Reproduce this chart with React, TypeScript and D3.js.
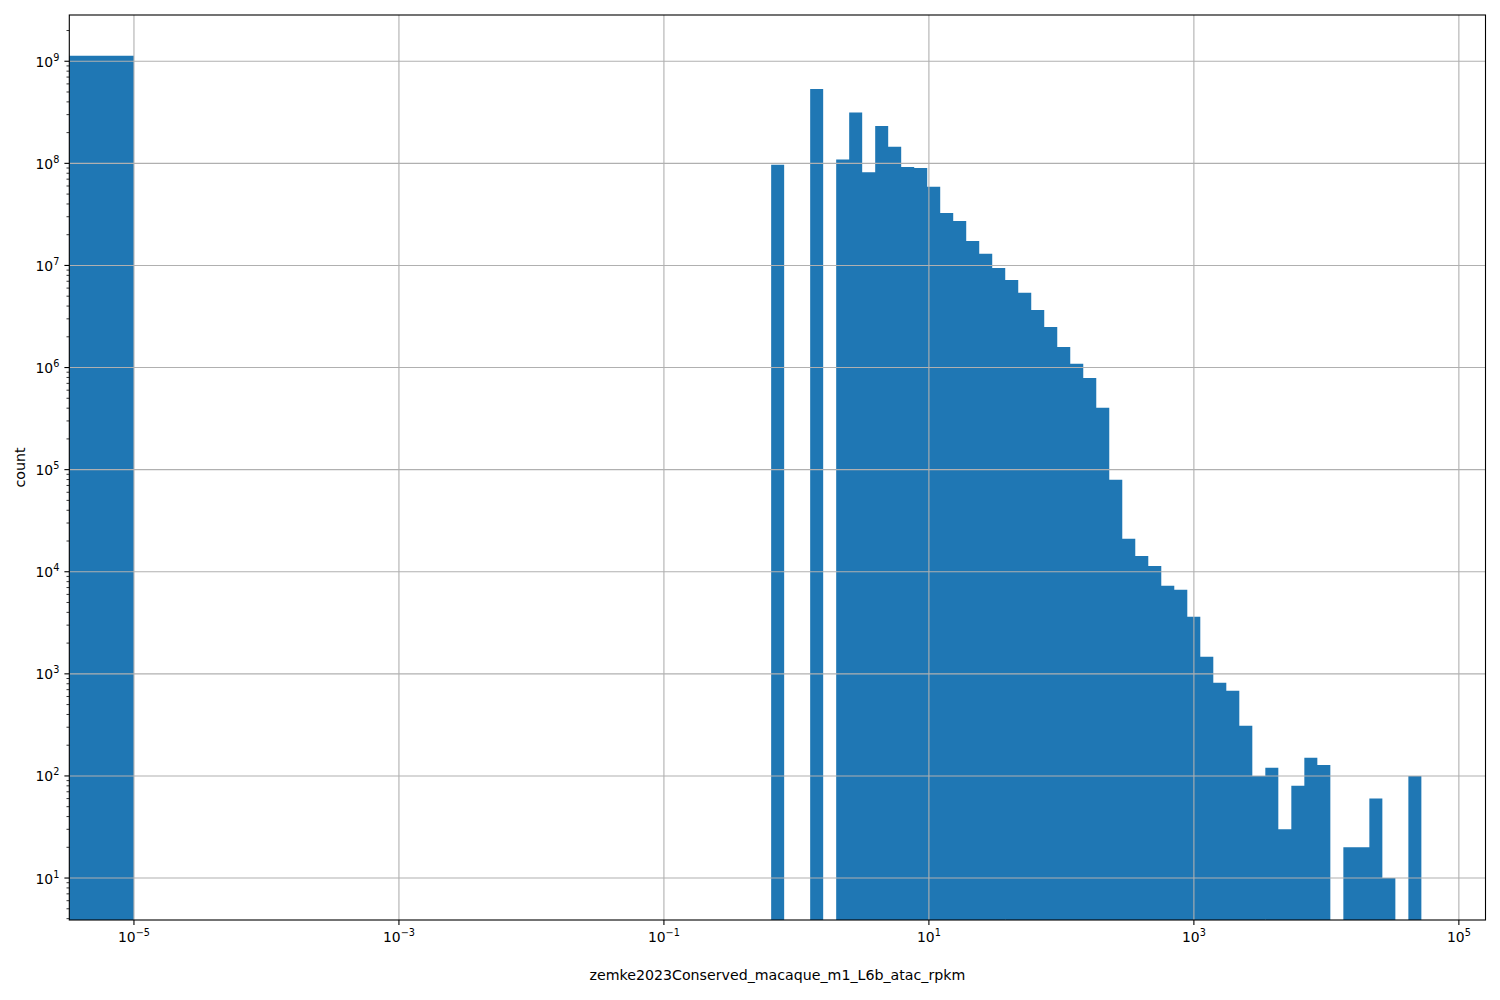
import * as d3 from 'd3';

// first bin holds all the zero values, drawn from off-axis up to 1e-5
const ZERO_BIN_HI = 1e-5;
const ZERO_BIN_COUNT = 1.135e9;

// log-spaced bins (log10 of the edges)
const BIN_LOG_START = -0.1906;
const BIN_LOG_END = 4.717;
const BIN_COUNTS = [
  9.7e7, 0, 0, 5.36e8, 0, 1.09e8, 3.14e8, 8.2e7, 2.32e8, 1.45e8,
  9.2e7, 9.0e7, 5.9e7, 3.27e7, 2.73e7, 1.74e7, 1.3e7, 9.46e6, 7.22e6, 5.39e6,
  3.67e6, 2.5e6, 1.59e6, 1.09e6, 7.9e5, 4.03e5, 7.94e4, 2.1e4, 1.43e4, 1.14e4,
  7280, 6650, 3620, 1470, 817, 682, 310, 100, 120, 30,
  80, 151, 128, 0, 20, 20, 60, 10, 0, 100,
];

const X_TICK_EXPS = [-5, -3, -1, 1, 3, 5];
const Y_TICK_EXPS = [1, 2, 3, 4, 5, 6, 7, 8, 9];

const X_LABEL = 'zemke2023Conserved_macaque_m1_L6b_atac_rpkm';
const Y_LABEL = 'count';

const W = 1500;
const H = 1000;
const margin = { top: 15, right: 14.5, bottom: 80, left: 69.3 };
const FONT = 'DejaVu Sans, sans-serif';
const BLUE = '#1f77b4';
const GRID = '#b0b0b0';

function Pow10({ exp }: { exp: number }) {
  const s = exp < 0 ? `\u2212${-exp}` : `${exp}`;
  return (
    <>
      <tspan>10</tspan>
      <tspan fontSize={9.7} dy={-6}>{s}</tspan>
    </>
  );
}

export default function App() {
  const x0 = margin.left;
  const x1 = W - margin.right;
  const y0 = margin.top;
  const y1 = H - margin.bottom;

  const x = d3.scaleLog().domain([Math.pow(10, -5.488), Math.pow(10, 5.201)]).range([x0, x1]);
  const y = d3.scaleLog().domain([Math.pow(10, 0.589), Math.pow(10, 9.453)]).range([y1, y0]);

  const step = (BIN_LOG_END - BIN_LOG_START) / BIN_COUNTS.length;
  const bins = BIN_COUNTS.map((c, i) => ({
    lo: Math.pow(10, BIN_LOG_START + i * step),
    hi: Math.pow(10, BIN_LOG_START + (i + 1) * step),
    count: c,
  })).filter((b) => b.count > 0);

  // all bars in one path so adjacent bins don't show seams
  const p = d3.path();
  p.rect(x0 - 10, y(ZERO_BIN_COUNT), x(ZERO_BIN_HI) - x0 + 10, y1 - y(ZERO_BIN_COUNT) + 10);
  bins.forEach((b) => {
    p.rect(x(b.lo), y(b.count), x(b.hi) - x(b.lo), y1 - y(b.count) + 10);
  });

  const minorY: number[] = [];
  for (let e = 0; e <= 9; e++) {
    for (let m = 2; m <= 9; m++) {
      const v = m * Math.pow(10, e);
      const py = y(v);
      if (py >= y0 && py <= y1) minorY.push(v);
    }
  }

  return (
    <div style={{ position: 'absolute', left: 0, top: 0 }}>
      <svg width={W} height={H} style={{ display: 'block', background: '#fff' }} fontFamily={FONT}>
        <defs>
          <clipPath id="plot">
            <rect x={x0} y={y0} width={x1 - x0} height={y1 - y0} />
          </clipPath>
        </defs>
        <g clipPath="url(#plot)">
          <path d={p.toString()} fill={BLUE} />
          {X_TICK_EXPS.map((e) => (
            <line key={e} x1={x(Math.pow(10, e))} x2={x(Math.pow(10, e))} y1={y0} y2={y1} stroke={GRID} strokeWidth={1.1} />
          ))}
          {Y_TICK_EXPS.map((e) => (
            <line key={e} x1={x0} x2={x1} y1={y(Math.pow(10, e))} y2={y(Math.pow(10, e))} stroke={GRID} strokeWidth={1.1} />
          ))}
        </g>
        <rect x={x0} y={y0} width={x1 - x0} height={y1 - y0} fill="none" stroke="#000" strokeWidth={1.1} />
        {X_TICK_EXPS.map((e) => {
          const px = x(Math.pow(10, e));
          return (
            <g key={e}>
              <line x1={px} x2={px} y1={y1} y2={y1 + 4.9} stroke="#000" strokeWidth={1.1} />
              <text x={px} y={y1 + 22} textAnchor="middle" fontSize={13.9} fill="#000">
                <Pow10 exp={e} />
              </text>
            </g>
          );
        })}
        {Y_TICK_EXPS.map((e) => {
          const py = y(Math.pow(10, e));
          return (
            <g key={e}>
              <line x1={x0 - 4.9} x2={x0} y1={py} y2={py} stroke="#000" strokeWidth={1.1} />
              <text x={x0 - 10} y={py + 5.5} textAnchor="end" fontSize={13.9} fill="#000">
                <Pow10 exp={e} />
              </text>
            </g>
          );
        })}
        {minorY.map((v, i) => (
          <line key={i} x1={x0 - 2.8} x2={x0} y1={y(v)} y2={y(v)} stroke="#000" strokeWidth={0.8} />
        ))}
        <text x={(x0 + x1) / 2} y={980} textAnchor="middle" fontSize={14.2} fill="#000">
          {X_LABEL}
        </text>
        <text
          transform={`translate(25,${(y0 + y1) / 2}) rotate(-90)`}
          textAnchor="middle"
          fontSize={14.2}
          fill="#000"
        >
          {Y_LABEL}
        </text>
      </svg>
    </div>
  );
}
